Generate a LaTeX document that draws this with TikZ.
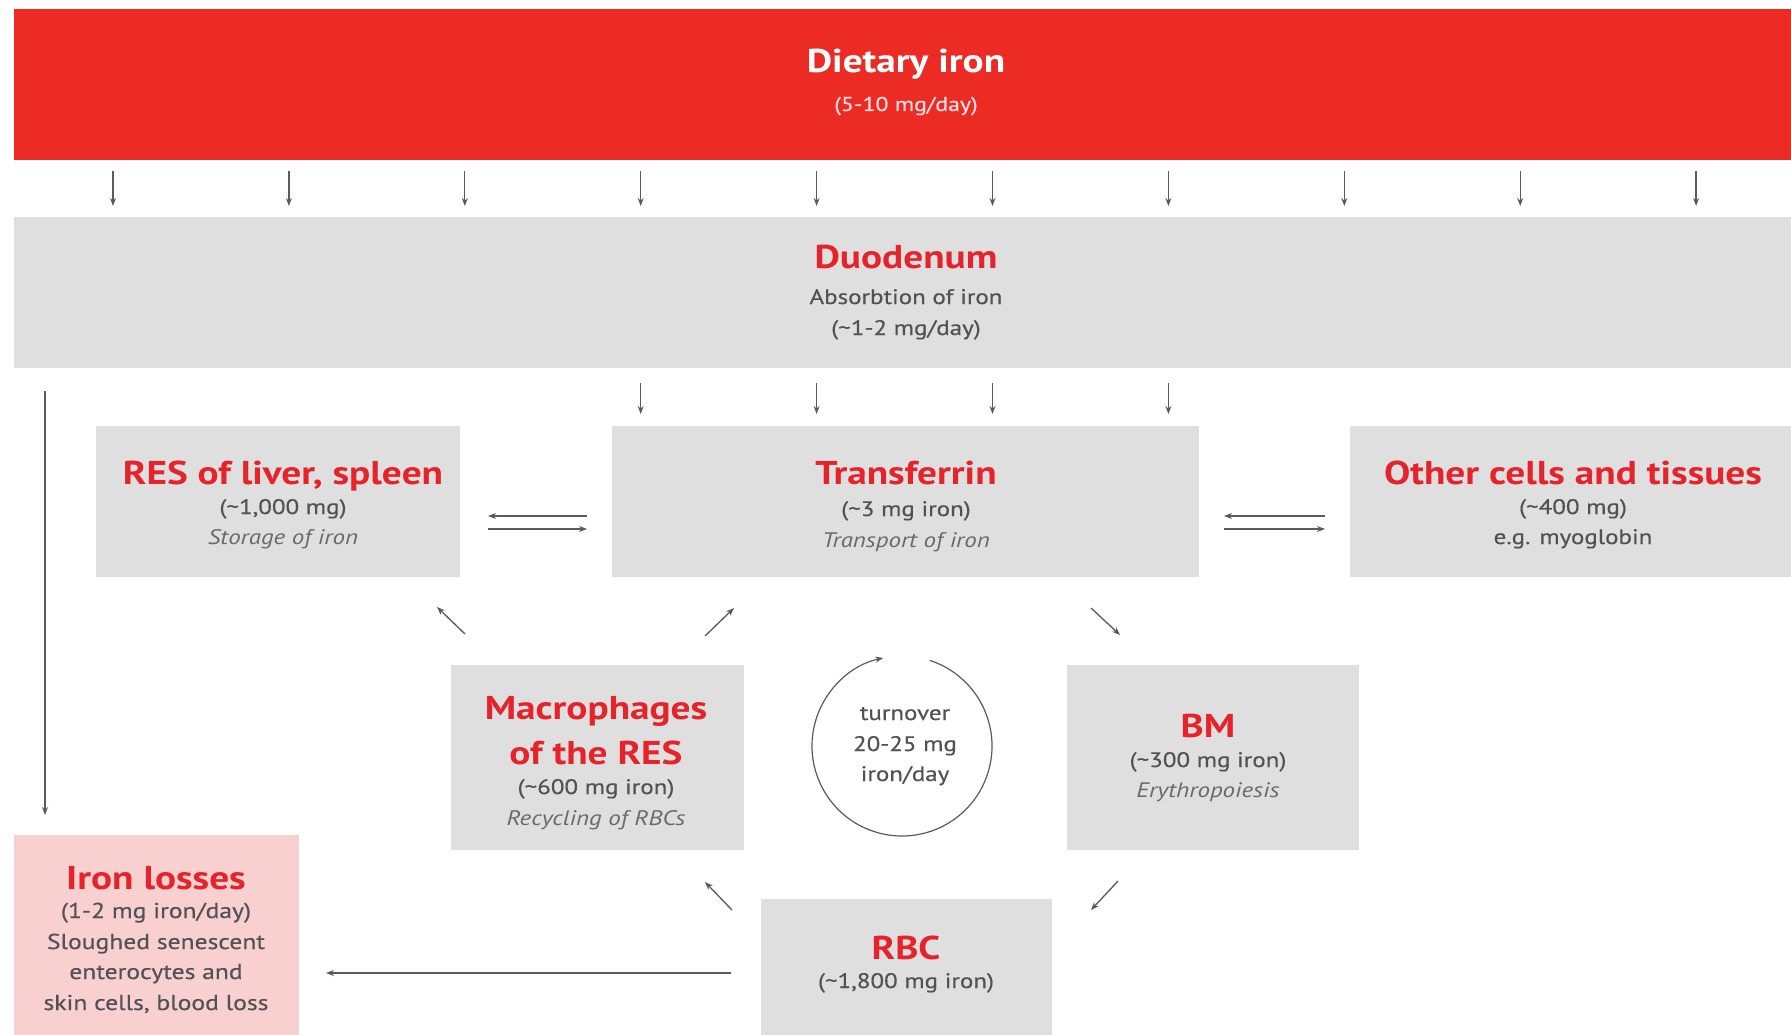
\documentclass[tikz,border=0pt]{standalone}
\usepackage{fontspec}
\setmainfont[FakeStretch=1.19]{PT Sans}
\newfontfamily\semib[FakeStretch=1.19,FakeBold=0.4]{PT Sans}
\usetikzlibrary{arrows.meta}
\definecolor{bandred}{HTML}{EC2B24}
\definecolor{titlered}{HTML}{E5232B}
\definecolor{boxgray}{HTML}{DFDFDF}
\definecolor{losspink}{HTML}{F8D0CF}
\definecolor{subgray}{HTML}{525255}
\definecolor{itgray}{HTML}{6A6A6C}
\definecolor{arrgray}{HTML}{5A5A5A}
\tikzset{
  box/.style={fill=boxgray, draw=none, inner sep=0pt, outer sep=0pt, anchor=north west},
  title/.style={font=\fontsize{33}{38}\selectfont\bfseries, text=titlered, anchor=base, inner sep=0pt},
  sub/.style={font=\fontsize{21}{25}\selectfont\semib, text=subgray, anchor=base, inner sep=0pt},
  losssub/.style={font=\fontsize{21.5}{26}\selectfont\semib, text=subgray, anchor=base, inner sep=0pt},
  subit/.style={font=\fontsize{21}{25}\selectfont\itshape, text=itgray, anchor=base, inner sep=0pt},
  arr/.style={draw=arrgray, line width=1.3pt, -{Stealth[length=8pt,width=6pt]}},
}
\begin{document}
\begin{tikzpicture}[x=1pt,y=-1pt]
\useasboundingbox (0,0) rectangle (1791,1035);
\fill[white] (0,0) rectangle (1791,1035);

% boxes
\node[box, fill=bandred, minimum width=1777pt, minimum height=151pt] (diet) at (14,9) {};
\node[box, minimum width=1777pt, minimum height=151pt] (duo) at (14,217) {};
\node[box, minimum width=364pt, minimum height=151pt] (res) at (96,426) {};
\node[box, minimum width=587pt, minimum height=151pt] (tf) at (612,426) {};
\node[box, minimum width=441pt, minimum height=151pt] (oth) at (1350,426) {};
\node[box, minimum width=293pt, minimum height=185pt] (mac) at (451,665) {};
\node[box, minimum width=292pt, minimum height=185pt] (bm) at (1067,665) {};
\node[box, minimum width=291pt, minimum height=136pt] (rbc) at (761,899) {};
\node[box, fill=losspink, minimum width=285pt, minimum height=200pt] (loss) at (14,835) {};
\node[circle, draw=none, minimum size=180pt, inner sep=0pt, outer sep=0pt] (turn) at (902,746) {};

% texts
\node[title, text=white] (dietT) at (906,73) {Dietary iron};
\node[sub, text=white!85!bandred, font=\fontsize{20}{24}\selectfont\semib] (dietA) at (906,111) {(5-10 mg/day)};

\node[title] (duoT) at (906,269) {Duodenum};
\node[sub] (duoA) at (906,304) {Absorbtion of iron};
\node[sub] (duoB) at (906,335) {(\textasciitilde1-2 mg/day)};

\node[title] (resT) at (283,484) {RES of liver, spleen};
\node[sub] (resA) at (283,514) {(\textasciitilde1,000 mg)};
\node[subit] (resB) at (283,544) {Storage of iron};

\node[title] (tfT) at (906,484) {Transferrin};
\node[sub] (tfA) at (906,516) {(\textasciitilde3 mg iron)};
\node[subit] (tfB) at (906,547) {Transport of iron};

\node[title] (othT) at (1573,484) {Other cells and tissues};
\node[sub] (othA) at (1573,514) {(\textasciitilde400 mg)};
\node[sub] (othB) at (1573,544) {e.g. myoglobin};

\node[title] (macT) at (596,719) {Macrophages};
\node[title] (macU) at (596,764) {of the RES};
\node[sub] (macA) at (596,794) {(\textasciitilde600 mg iron)};
\node[subit] (macB) at (596,825) {Recycling of RBCs};

\node[sub] (turnA) at (905,720) {turnover};
\node[sub] (turnB) at (905,751) {20-25 mg};
\node[sub] (turnC) at (905,781) {iron/day};

\node[title] (bmT) at (1208,737) {BM};
\node[sub] (bmA) at (1208,767) {(\textasciitilde300 mg iron)};
\node[subit] (bmB) at (1208,797) {Erythropoiesis};

\node[title] (rbcT) at (906,959) {RBC};
\node[sub] (rbcA) at (906,988) {(\textasciitilde1,800 mg iron)};

\node[title] (lossT) at (156,889) {Iron losses};
\node[losssub] (lossA) at (156,918) {(1-2 mg iron/day)};
\node[losssub] (lossB) at (156,949) {Sloughed senescent};
\node[losssub] (lossC) at (156,979) {enterocytes and};
\node[losssub] (lossD) at (156,1010) {skin cells, blood loss};

% dietary iron -> duodenum
\foreach \i in {0,...,9} {
  \coordinate (da\i) at ({113+175.9*\i},171);
  \coordinate (db\i) at ({113+175.9*\i},206);
  \draw[arr] (da\i) -- (db\i);
}
% duodenum -> transferrin
\foreach \i in {3,...,6} {
  \coordinate (ta\i) at ({113+175.9*\i},383);
  \coordinate (tb\i) at ({113+175.9*\i},414);
  \draw[arr] (ta\i) -- (tb\i);
}
% duodenum -> iron losses
\coordinate (la) at (45,391);
\coordinate (lb) at (45,815);
\draw[arr] (la) -- (lb);

% exchange arrows
\coordinate (x1a) at (587,516); \coordinate (x1b) at (488,516);
\coordinate (x1c) at (488,529); \coordinate (x1d) at (587,529);
\draw[arr] (x1a) -- (x1b);
\draw[arr] (x1c) -- (x1d);
\coordinate (x2a) at (1325,516); \coordinate (x2b) at (1224,516);
\coordinate (x2c) at (1224,529); \coordinate (x2d) at (1325,529);
\draw[arr] (x2a) -- (x2b);
\draw[arr] (x2c) -- (x2d);

% diagonal arrows
\coordinate (d1a) at (465,634); \coordinate (d1b) at (437,607);
\coordinate (d2a) at (705,636); \coordinate (d2b) at (734,608);
\coordinate (d3a) at (1091,608); \coordinate (d3b) at (1120,635);
\coordinate (d4a) at (732,910); \coordinate (d4b) at (705,882);
\coordinate (d5a) at (1118,881); \coordinate (d5b) at (1091,910);
\draw[arr] (d1a) -- (d1b);
\draw[arr] (d2a) -- (d2b);
\draw[arr] (d3a) -- (d3b);
\draw[arr] (d4a) -- (d4b);
\draw[arr] (d5a) -- (d5b);

% RBC -> iron losses
\coordinate (ra) at (731,973); \coordinate (rb) at (326,973);
\draw[arr] (ra) -- (rb);

% turnover circle
\draw[arr, line width=1.2pt] (turn.72) arc[start angle=72, end angle=-258, radius=90pt];
\end{tikzpicture}
\end{document}
